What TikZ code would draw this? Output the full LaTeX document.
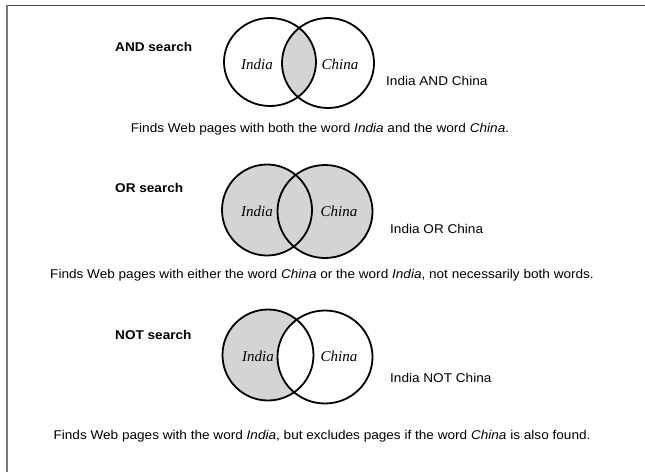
\documentclass[tikz,border=0pt]{standalone}
\usepackage{fontspec}
\setmainfont{Liberation Sans}[FakeStretch=1.07]
\newfontfamily\vennfont{Liberation Serif}
\definecolor{vgray}{RGB}{212,212,212}
\definecolor{topline}{RGB}{70,70,70}
\definecolor{leftline}{RGB}{120,120,120}
\begin{document}
\begin{tikzpicture}[x=1pt,y=-1pt,
  heading/.style={anchor=west,font=\fontsize{12.7}{14}\selectfont\bfseries,inner sep=0pt},
  result/.style={anchor=west,font=\fontsize{12.7}{14}\selectfont,inner sep=0pt},
  descr/.style={anchor=center,font=\fontsize{12.7}{14}\selectfont,inner sep=0pt},
  setname/.style={anchor=center,font=\vennfont\itshape\fontsize{15}{17}\selectfont,inner sep=0pt},
  ring/.style={draw=black,line width=1.8pt}]
\useasboundingbox (0,0) rectangle (645,472);
\fill[white] (0,0) rectangle (645,472);
% frame
\draw[topline,line width=1.6pt] (5.7,5.6) -- (645,5.6);
\draw[leftline,line width=1.8pt] (6.6,5) -- (6.6,472);

% ---------- AND ----------
\begin{scope}
  \clip (270,62) ellipse [x radius=46pt, y radius=44pt];
  \fill[vgray] (328,63) ellipse [x radius=46pt, y radius=45pt];
\end{scope}
\draw[ring] (270,62) ellipse [x radius=46pt, y radius=44pt];
\draw[ring] (328,63) ellipse [x radius=46pt, y radius=45pt];
\node[heading] (andh) at (115,47) {AND search};
\node[setname] (andi) at (257,64) {India};
\node[setname] (andc) at (340,64) {China};
\node[result] (andr) at (386,81) {India AND China};
\node[descr] (andd) at (320,129) {Finds Web pages with both the word \textit{India} and the word \textit{China}.};

% ---------- OR ----------
\fill[vgray] (267,210) ellipse [x radius=45pt, y radius=45.5pt];
\fill[vgray] (325,211.5) ellipse [x radius=47.5pt, y radius=46.5pt];
\draw[ring] (267,210) ellipse [x radius=45pt, y radius=45.5pt];
\draw[ring] (325,211.5) ellipse [x radius=47.5pt, y radius=46.5pt];
\node[heading] (orh) at (115,188) {OR search};
\node[setname] (ori) at (257,211) {India};
\node[setname] (orc) at (339,211) {China};
\node[result] (orr) at (390,229) {India OR China};
\node[descr] (ord) at (322,275) {Finds Web pages with either the word \textit{China} or the word \textit{India}, not necessarily both words.};

% ---------- NOT ----------
\begin{scope}[even odd rule]
  \fill[vgray] (268,355) ellipse [x radius=45.5pt, y radius=45.5pt];
  \fill[white] (325,357) ellipse [x radius=47.5pt, y radius=46.5pt];
\end{scope}
\draw[ring] (268,355) ellipse [x radius=45.5pt, y radius=45.5pt];
\draw[ring] (325,357) ellipse [x radius=47.5pt, y radius=46.5pt];
\node[heading] (noth) at (115,335) {NOT search};
\node[setname] (noti) at (258,356) {India};
\node[setname] (notc) at (339,356) {China};
\node[result] (notr) at (390,378) {India NOT China};
\node[descr] (notd) at (322,436) {Finds Web pages with the word \textit{India}, but excludes pages if the word \textit{China} is also found.};
\end{tikzpicture}
\end{document}
